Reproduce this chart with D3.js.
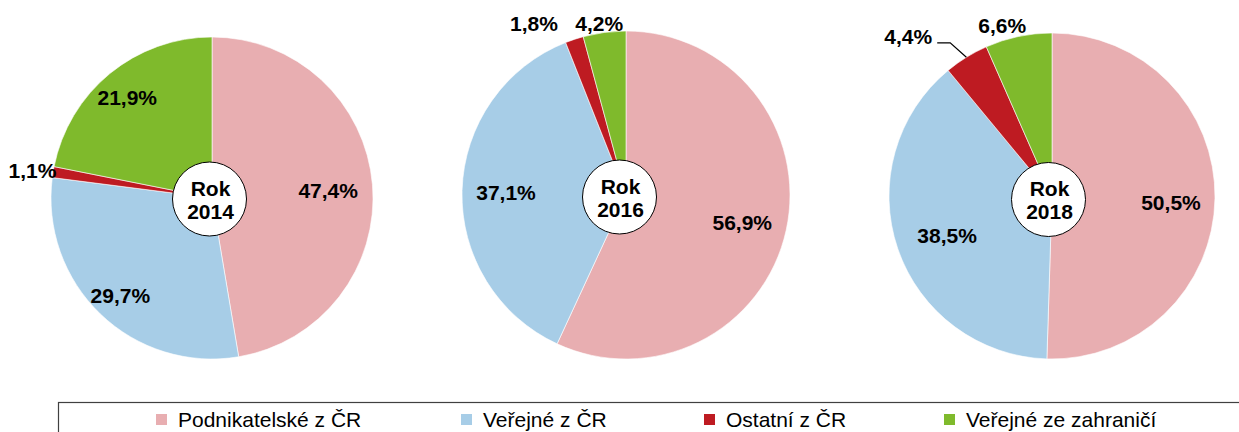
<!DOCTYPE html>
<html>
<head>
<meta charset="utf-8">
<script src="https://cdn.jsdelivr.net/npm/d3@7"></script>
<style>
  html, body { margin: 0; padding: 0; background: #fff; }
  svg { display: block; }
</style>
</head>
<body>
<svg id="chart" width="1239" height="432"></svg>
<script>
// ---- DATA ----
const categories = ["Podnikatelské z ČR", "Veřejné z ČR", "Ostatní z ČR", "Veřejné ze zahraničí"];
const years = ["2014", "2016", "2018"];
const values2014 = [47.4, 29.7, 1.1, 21.9];
const values2016 = [56.9, 37.1, 1.8, 4.2];
const values2018 = [50.5, 38.5, 4.4, 6.6];
const valueLabels2014 = ["47,4%", "29,7%", "1,1%", "21,9%"];
const valueLabels2016 = ["56,9%", "37,1%", "1,8%", "4,2%"];
const valueLabels2018 = ["50,5%", "38,5%", "4,4%", "6,6%"];

// ---- STYLE / LAYOUT ----
const colors = ["#E8AEB1", "#A7CDE7", "#BE1B22", "#7FBA2C"];
const font = "'Liberation Sans', Arial, Helvetica, sans-serif";

const pies = [
  { year: years[0], values: values2014, labels: valueLabels2014, cx: 212, cy: 198, r: 161, hole: { dx: -2.5, dy: 1 },
    lab: [{ f: 0.724, dx: 0, dy: 2.5 }, { f: 0.826, dx: 0.5, dy: 1.5 }, { f: 1.13, dx: 0, dy: 2 }, { f: 0.82, dx: -1, dy: 1 }] },
  { year: years[1], values: values2016, labels: valueLabels2016, cx: 626, cy: 195, r: 164, hole: { dx: -6.5, dy: 2 },
    lab: [{ f: 0.726, dx: 0, dy: 1.5 }, { f: 0.732, dx: 0, dy: 1 }, { f: 1.104, dx: -35, dy: 0 }, { f: 1.058, dx: -4, dy: 0 }] },
  { year: years[2], values: values2018, labels: valueLabels2018, cx: 1052, cy: 196, r: 163, hole: { dx: -3.5, dy: 3.5 },
    lab: [{ f: 0.73, dx: 0, dy: 5 }, { f: 0.687, dx: 1, dy: 3 }, { f: 1.147, dx: -45.6, dy: 0, leader: true }, { f: 1.067, dx: -14, dy: 0 }] }
];

const svg = d3.select("#chart");

const pieGen = d3.pie().sort(null).value(d => d).startAngle(0).endAngle(2 * Math.PI);

pies.forEach(p => {
  const g = svg.append("g").attr("transform", `translate(${p.cx},${p.cy})`);
  const arcs = pieGen(p.values);
  const arc = d3.arc().innerRadius(0).outerRadius(p.r);

  g.selectAll("path.slice")
    .data(arcs)
    .join("path")
    .attr("class", "slice")
    .attr("d", arc)
    .attr("fill", (d, i) => colors[i])
    .attr("stroke", "#ffffff")
    .attr("stroke-width", 0.6);

  arcs.forEach((d, i) => {
    const mid = (d.startAngle + d.endAngle) / 2;
    const L = p.lab[i];
    const rr = p.r * L.f;
    const x = Math.sin(mid) * rr + L.dx;
    const y = -Math.cos(mid) * rr + L.dy;
    g.append("text")
      .attr("x", x)
      .attr("y", y)
      .attr("dy", "0.36em")
      .attr("text-anchor", "middle")
      .attr("font-family", font)
      .attr("font-size", 21)
      .attr("font-weight", "bold")
      .attr("fill", "#000")
      .text(p.labels[i]);
    if (L.leader) {
      const ex = Math.sin(mid) * p.r, ey = -Math.cos(mid) * p.r;
      const line = d3.line();
      g.append("path")
        .attr("d", line([[ex, ey], [x + 42, y + 6], [x + 29, y + 6]]))
        .attr("fill", "none")
        .attr("stroke", "#000")
        .attr("stroke-width", 1.2);
    }
  });

  // centre disc with year
  const hx = p.hole.dx, hy = p.hole.dy;
  g.append("circle")
    .attr("cx", hx).attr("cy", hy).attr("r", 37)
    .attr("fill", "#fff").attr("stroke", "#000").attr("stroke-width", 1);
  g.append("text")
    .attr("x", hx + 1).attr("y", hy - 11).attr("dy", "0.36em")
    .attr("text-anchor", "middle")
    .attr("font-family", font).attr("font-size", 21).attr("font-weight", "bold")
    .text("Rok");
  g.append("text")
    .attr("x", hx + 1).attr("y", hy + 12).attr("dy", "0.36em")
    .attr("text-anchor", "middle")
    .attr("font-family", font).attr("font-size", 21).attr("font-weight", "bold")
    .text(p.year);
});

// ---- LEGEND ----
svg.append("rect")
  .attr("x", 58.5).attr("y", 402.5).attr("width", 1300).attr("height", 100)
  .attr("fill", "none").attr("stroke", "#404040").attr("stroke-width", 1.2);

const legendX = [156, 461, 704, 944];
const lg = svg.append("g");
categories.forEach((c, i) => {
  lg.append("rect")
    .attr("x", legendX[i]).attr("y", 414).attr("width", 11).attr("height", 11)
    .attr("fill", colors[i]);
  lg.append("text")
    .attr("x", legendX[i] + 22).attr("y", 426.5)
    .attr("font-family", font).attr("font-size", 21)
    .attr("fill", "#000")
    .text(c);
});
</script>
</body>
</html>
